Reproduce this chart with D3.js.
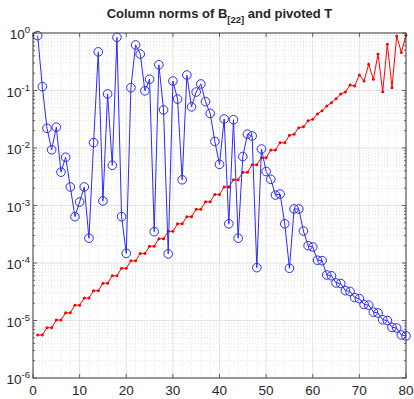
<!DOCTYPE html>
<html>
<head>
<meta charset="utf-8">
<script src="https://cdn.jsdelivr.net/npm/d3@7"></script>
<style>
  body { margin: 0; background: #fff; }
  svg text { font-family: "Liberation Sans", Arial, sans-serif; fill: #262626; }
</style>
</head>
<body>
<div id="chart"></div>
<script>
// column norms of B_[22] (blue, circles)
var normsB = [
  0.9, 0.117, 0.022, 0.0093, 0.023, 0.0038, 0.0069, 0.0021, 0.00064, 0.00115,
  0.0021, 0.00027, 0.0124, 0.47, 0.0012, 0.087, 0.0050, 0.84, 0.00064, 0.000147,
  0.112, 0.62, 0.43, 0.099, 0.157, 0.00035, 0.28, 0.046, 0.000144, 0.146,
  0.071, 0.0028, 0.186, 0.052, 0.094, 0.13, 0.064, 0.040, 0.013, 0.0052,
  0.032, 0.00048, 0.031, 0.00027, 0.0071, 0.0174, 0.0162, 0.000083, 0.0096, 0.0039,
  0.00285, 0.00152, 0.00158, 0.00048, 0.000081, 0.00087, 0.00087, 0.00036, 0.0002, 0.00019,
  0.000112, 0.00011, 0.000062, 0.00006, 0.000045, 0.000044, 0.000033, 0.000032, 0.000025, 0.000024,
  0.000019, 0.0000185, 0.000014, 0.0000135, 0.0000103, 0.00001, 0.0000076, 0.0000074, 0.0000056, 0.0000054
];
// column norms of pivoted T (red, dots)
var normsT = [
  5.6e-6, 5.6e-6, 7.5e-6, 7.5e-6, 1.02e-5, 1.02e-5, 1.36e-5, 1.36e-5, 1.85e-5, 1.85e-5,
  2.45e-5, 2.45e-5, 3.3e-5, 3.3e-5, 4.45e-5, 4.45e-5, 6.0e-5, 6.0e-5, 8.1e-5, 8.1e-5,
  1.09e-4, 1.09e-4, 1.46e-4, 1.46e-4, 1.96e-4, 1.96e-4, 2.65e-4, 2.65e-4, 3.55e-4, 3.55e-4,
  4.8e-4, 4.8e-4, 6.4e-4, 6.4e-4, 8.6e-4, 8.6e-4, 1.16e-3, 1.16e-3, 1.56e-3, 1.56e-3,
  2.1e-3, 2.1e-3, 2.8e-3, 2.8e-3, 3.8e-3, 3.8e-3, 5.1e-3, 5.1e-3, 6.8e-3, 6.8e-3,
  9.2e-3, 9.2e-3, 0.0124, 0.0124, 0.0166, 0.0173, 0.0225, 0.0234, 0.0298, 0.0316,
  0.039, 0.0446, 0.0537, 0.0614, 0.072, 0.087, 0.094, 0.125, 0.12, 0.186,
  0.146, 0.286, 0.157, 0.43, 0.095, 0.64, 0.112, 0.89, 0.46, 0.92
];
var xTicks = [0, 10, 20, 30, 40, 50, 60, 70, 80];
var yExponents = [0, -1, -2, -3, -4, -5, -6];

var width = 414, height = 399;
var margin = { top: 33, right: 8, bottom: 21, left: 33 };

var svg = d3.select('#chart').append('svg')
  .attr('width', width)
  .attr('height', height);

var x = d3.scaleLinear()
  .domain([0, 80])
  .range([margin.left, width - margin.right]);

var y = d3.scaleLog()
  .domain([1e-6, 1])
  .range([height - margin.bottom, margin.top]);

var x0 = x(0), x1 = x(80), y0 = y(1e-6), y1 = y(1);

// minor grid
var minorY = [];
yExponents.slice(0, -1).forEach(e => {
  for (let m = 2; m <= 9; m++) minorY.push(m * Math.pow(10, e - 1));
});
var minorX = d3.range(2, 80, 2).filter(v => v % 10 !== 0);

var grid = svg.append('g');
grid.selectAll('line.minY').data(minorY).enter().append('line')
  .attr('x1', x0).attr('x2', x1)
  .attr('y1', d => y(d)).attr('y2', d => y(d))
  .attr('stroke', '#cfcfcf').attr('stroke-width', 0.6)
  .attr('stroke-dasharray', '1,2');
grid.selectAll('line.minX').data(minorX).enter().append('line')
  .attr('x1', d => x(d)).attr('x2', d => x(d))
  .attr('y1', y0).attr('y2', y1)
  .attr('stroke', '#cfcfcf').attr('stroke-width', 0.6)
  .attr('stroke-dasharray', '1,2');
// major grid
grid.selectAll('line.majY').data(yExponents).enter().append('line')
  .attr('x1', x0).attr('x2', x1)
  .attr('y1', d => y(Math.pow(10, d))).attr('y2', d => y(Math.pow(10, d)))
  .attr('stroke', '#e3e3e3').attr('stroke-width', 1);
grid.selectAll('line.majX').data(xTicks).enter().append('line')
  .attr('x1', d => x(d)).attr('x2', d => x(d))
  .attr('y1', y0).attr('y2', y1)
  .attr('stroke', '#e3e3e3').attr('stroke-width', 1);

// series
var line = d3.line()
  .x((d, i) => x(i + 1))
  .y(d => y(d));

svg.append('path')
  .datum(normsT)
  .attr('d', line)
  .attr('fill', 'none')
  .attr('stroke', '#ff0000')
  .attr('stroke-width', 1);

svg.selectAll('circle.dot')
  .data(normsT)
  .enter()
  .append('circle')
  .attr('class', 'dot')
  .attr('cx', (d, i) => x(i + 1))
  .attr('cy', d => y(d))
  .attr('r', 1.5)
  .attr('fill', '#ff0000');

svg.append('path')
  .datum(normsB)
  .attr('d', line)
  .attr('fill', 'none')
  .attr('stroke', '#2a2aff')
  .attr('stroke-width', 1);

svg.selectAll('circle.mark')
  .data(normsB)
  .enter()
  .append('circle')
  .attr('class', 'mark')
  .attr('cx', (d, i) => x(i + 1))
  .attr('cy', d => y(d))
  .attr('r', 4.3)
  .attr('fill', 'none')
  .attr('stroke', '#2a2aff')
  .attr('stroke-width', 1);

// box and ticks
var axisColor = '#404040';
svg.append('rect')
  .attr('x', x0).attr('y', y1)
  .attr('width', x1 - x0).attr('height', y0 - y1)
  .attr('fill', 'none')
  .attr('stroke', axisColor)
  .attr('stroke-width', 1);

var ticks = svg.append('g').attr('stroke', axisColor).attr('stroke-width', 0.8);
xTicks.forEach(v => {
  ticks.append('line').attr('x1', x(v)).attr('x2', x(v)).attr('y1', y0).attr('y2', y0 - 4);
  ticks.append('line').attr('x1', x(v)).attr('x2', x(v)).attr('y1', y1).attr('y2', y1 + 4);
});
yExponents.forEach(e => {
  var p = y(Math.pow(10, e));
  ticks.append('line').attr('x1', x0).attr('x2', x0 + 4).attr('y1', p).attr('y2', p);
  ticks.append('line').attr('x1', x1).attr('x2', x1 - 4).attr('y1', p).attr('y2', p);
});
minorY.forEach(v => {
  ticks.append('line').attr('x1', x0).attr('x2', x0 + 2).attr('y1', y(v)).attr('y2', y(v));
  ticks.append('line').attr('x1', x1).attr('x2', x1 - 2).attr('y1', y(v)).attr('y2', y(v));
});

// tick labels
svg.selectAll('text.xlab')
  .data(xTicks)
  .enter()
  .append('text')
  .attr('class', 'xlab')
  .attr('x', d => x(d))
  .attr('y', y0 + 17)
  .attr('text-anchor', 'middle')
  .style('font-size', '13.5px')
  .text(d => d);

var ylab = svg.selectAll('text.ylab')
  .data(yExponents)
  .enter()
  .append('text')
  .attr('class', 'ylab')
  .attr('x', x0 - 3)
  .attr('y', d => y(Math.pow(10, d)) + 6)
  .attr('text-anchor', 'end')
  .style('font-size', '13.5px');
ylab.append('tspan').text('10');
ylab.append('tspan')
  .attr('dy', -6)
  .style('font-size', '9.5px')
  .text(d => d === 0 ? '0' : '-' + Math.abs(d));

// title
var title = svg.append('text')
  .attr('x', (x0 + x1) / 2)
  .attr('y', 18)
  .attr('text-anchor', 'middle')
  .style('font-size', '13px')
  .style('font-weight', 'bold');
title.append('tspan').text('Column norms of B');
title.append('tspan').attr('dy', 5).style('font-size', '9.5px').text('[22]');
title.append('tspan').attr('dy', -5).text(' and pivoted T');
</script>
</body>
</html>
